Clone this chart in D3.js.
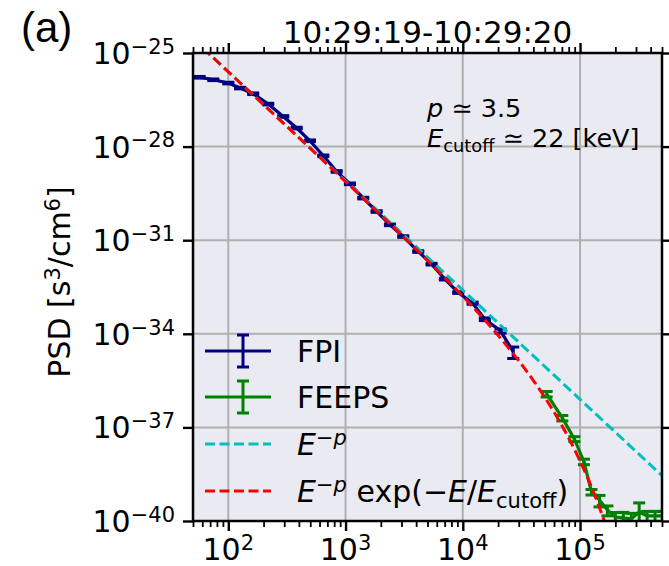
<!DOCTYPE html>
<html>
<head>
<meta charset="utf-8">
<script src="https://cdn.jsdelivr.net/npm/d3@7"></script>
<style>
  body { margin: 0; background: white; }
  text { font-family: "DejaVu Sans", sans-serif; fill: black; }
</style>
</head>
<body>
<div id="canvas"></div>
<script>
// DATA
// FPI electrons: energy [eV], PSD [s^3/cm^6], relative error
const fpiEnergy = [45, 57, 74.5, 100, 126, 163, 219, 294, 383, 497, 646, 840, 1090, 1416, 1841,
  2392, 3105, 4169, 5421, 7034, 9141, 12130, 15420, 20990, 26920];
const fpiPSD = [1.82e-26, 1.67e-26, 1.39e-26, 1.09e-26, 7.53e-27, 4.95e-27, 2.31e-27, 9.27e-28,
  3.94e-28, 1.54e-28, 5.08e-29, 1.60e-29, 6.43e-30, 2.24e-30, 8.32e-31, 3.11e-31, 1.31e-31,
  4.34e-32, 1.71e-32, 5.65e-33, 2.10e-33, 9.59e-34, 2.94e-34, 1.24e-34, 2.69e-35];
const fpiErr = [0.06, 0.06, 0.06, 0.06, 0.06, 0.06, 0.06, 0.06, 0.06, 0.06, 0.06, 0.06, 0.06,
  0.06, 0.06, 0.06, 0.06, 0.06, 0.06, 0.06, 0.06, 0.08, 0.1, 0.15, 0.4];

// FEEPS electrons
const feepsEnergy = [5.19e4, 7.06e4, 8.94e4, 1.079e5, 1.252e5, 1.465e5, 1.711e5, 2.002e5,
  2.34e5, 2.734e5, 3.194e5, 3.732e5, 4.36e5, 5.09e5];
const feepsPSD = [1.18e-36, 2.01e-37, 4.27e-38, 7.98e-39, 8.51e-40, 4.72e-40, 2.25e-40, 1.34e-40,
  1.26e-40, 1.17e-40, 1.95e-40, 1.45e-40, 1.45e-40, 1.45e-40];
const feepsErr = [0.2, 0.2, 0.18, 0.2, 0.2, 0.4, 0.35, 0.4, 0.5, 0.5, 0.95, 0.4, 0.4, 0.4];

// fitted curves
const powerEnergy = [40, 1e3, 1e4, 1e5, 6e5];
const powerPSD = [6.21e-25, 7.94e-30, 2.51e-33, 7.94e-37, 1.50e-39];
const cutoffEnergy = [40, 60, 100, 200, 500, 1e3, 2e3, 5e3, 1e4, 1.5e4, 2e4, 3e4, 4e4, 5e4,
  6e4, 7e4, 8e4, 9e4, 1e5, 1.2e5, 1.4e5, 1.6e5, 1.8e5];
const cutoffPSD = [6.19e-25, 1.50e-25, 2.50e-26, 2.20e-27, 8.77e-29, 7.59e-30, 6.41e-31,
  2.26e-32, 1.60e-33, 3.08e-34, 8.93e-35, 1.37e-35, 3.18e-36, 9.25e-37, 3.11e-37, 1.15e-37,
  4.57e-38, 1.92e-38, 8.43e-39, 1.79e-39, 4.22e-40, 1.07e-40, 2.84e-41];

// TICKS
const xTicks = [1e2, 1e3, 1e4, 1e5];
const yTicks = [1e-25, 1e-28, 1e-31, 1e-34, 1e-37, 1e-40];

const titleText = "10:29:19-10:29:20";

function drawChart() {
  // DIMENSIONS
  const width = 669;
  const height = 566;
  const margin = { top: 53, right: 7, bottom: 45, left: 193 };
  const plot_width = width - margin.left - margin.right;
  const plot_height = height - margin.top - margin.bottom;
  const fs = 30;

  const navy = "#000080", green = "#008000", cyan = "#00bfbf", red = "#ff0000";

  // CANVAS AND PLOT
  const canvas = d3.select("#canvas")
    .append("svg")
    .attr("width", width)
    .attr("height", height);

  const plot = canvas.append("g")
    .attr("transform", `translate(${margin.left},${margin.top})`);

  const x = d3.scaleLog().domain([50, 5e5]).range([0, plot_width]);
  const y = d3.scaleLog().domain([1e-40, 1e-25]).range([plot_height, 0]);

  // mathtext-ish helper: parts = [{t, it, sup, sub}]
  function mathText(sel, parts, size) {
    let shift = 0;
    parts.forEach(p => {
      const target = p.sup ? -0.34 * size : p.sub ? 0.2 * size : 0;
      const ts = sel.append("tspan").text(p.t).attr("dy", target - shift);
      shift = target;
      if (p.sup || p.sub) ts.style("font-size", (0.7 * size) + "px");
      if (p.it) ts.style("font-style", "italic");
    });
    return sel;
  }

  // BACKGROUND + GRID
  plot.append("rect")
    .attr("width", plot_width)
    .attr("height", plot_height)
    .attr("fill", "#eaeaf2");

  plot.selectAll(".xgrid")
    .data(xTicks)
    .join("line")
    .attr("x1", d => x(d)).attr("x2", d => x(d))
    .attr("y1", 0).attr("y2", plot_height)
    .attr("stroke", "#b0b0b0").attr("stroke-width", 2);

  plot.selectAll(".ygrid")
    .data(yTicks)
    .join("line")
    .attr("y1", d => y(d)).attr("y2", d => y(d))
    .attr("x1", 0).attr("x2", plot_width)
    .attr("stroke", "#b0b0b0").attr("stroke-width", 2);

  // CLIP
  canvas.append("clipPath").attr("id", "clip")
    .append("rect").attr("width", plot_width).attr("height", plot_height);
  const data_g = plot.append("g").attr("clip-path", "url(#clip)");

  const line = d3.line().x(d => x(d[0])).y(d => y(d[1]));

  // ERRORBAR SERIES
  function errorSeries(energy, psd, err, color) {
    const pts = energy.map((e, i) => [e, psd[i], err[i]]);
    data_g.append("path")
      .attr("d", line(pts))
      .attr("fill", "none")
      .attr("stroke", color)
      .attr("stroke-width", 3.2);
    const bars = data_g.append("g").attr("stroke", color).attr("stroke-width", 3);
    pts.forEach(d => {
      const cx = x(d[0]);
      const yt = y(d[1] * (1 + d[2]));
      const yb = y(Math.max(d[1] * (1 - d[2]), 1e-45));
      bars.append("line").attr("x1", cx).attr("x2", cx).attr("y1", yt).attr("y2", yb);
      bars.append("line").attr("x1", cx - 6).attr("x2", cx + 6).attr("y1", yt).attr("y2", yt);
      bars.append("line").attr("x1", cx - 6).attr("x2", cx + 6).attr("y1", yb).attr("y2", yb);
    });
  }

  errorSeries(fpiEnergy, fpiPSD, fpiErr, navy);
  errorSeries(feepsEnergy, feepsPSD, feepsErr, green);

  data_g.append("path")
    .attr("d", line(powerEnergy.map((e, i) => [e, powerPSD[i]])))
    .attr("fill", "none")
    .attr("stroke", cyan)
    .attr("stroke-width", 3)
    .attr("stroke-dasharray", "10,4.5");

  data_g.append("path")
    .attr("d", d3.line().x(d => x(d[0])).y(d => y(d[1])).curve(d3.curveMonotoneX)(cutoffEnergy.map((e, i) => [e, cutoffPSD[i]])))
    .attr("fill", "none")
    .attr("stroke", red)
    .attr("stroke-width", 3)
    .attr("stroke-dasharray", "10,4.5");

  // AXES (ticks only, labels drawn as rich text)
  const minorX = x.ticks().filter(d => !xTicks.includes(d));

  function styleAxis(g) {
    g.select(".domain").remove();
    g.selectAll("line").attr("stroke", "black");
    g.selectAll("text").remove();
  }

  plot.append("g").attr("transform", `translate(0,${plot_height})`)
    .call(d3.axisBottom(x).tickValues(xTicks).tickSize(10).tickSizeOuter(0))
    .call(styleAxis).selectAll("line").attr("stroke-width", 2.4);
  plot.append("g").attr("transform", `translate(0,${plot_height})`)
    .call(d3.axisBottom(x).tickValues(minorX).tickSize(6).tickSizeOuter(0))
    .call(styleAxis).selectAll("line").attr("stroke-width", 1.8);
  plot.append("g")
    .call(d3.axisTop(x).tickValues(xTicks).tickSize(10).tickSizeOuter(0))
    .call(styleAxis).selectAll("line").attr("stroke-width", 2.4);
  plot.append("g")
    .call(d3.axisTop(x).tickValues(minorX).tickSize(6).tickSizeOuter(0))
    .call(styleAxis).selectAll("line").attr("stroke-width", 1.8);
  plot.append("g")
    .call(d3.axisLeft(y).tickValues(yTicks).tickSize(10).tickSizeOuter(0))
    .call(styleAxis).selectAll("line").attr("stroke-width", 2.4);
  plot.append("g").attr("transform", `translate(${plot_width},0)`)
    .call(d3.axisRight(y).tickValues(yTicks).tickSize(10).tickSizeOuter(0))
    .call(styleAxis).selectAll("line").attr("stroke-width", 2.4);

  // SPINES
  plot.append("rect")
    .attr("width", plot_width)
    .attr("height", plot_height)
    .attr("fill", "none")
    .attr("stroke", "black")
    .attr("stroke-width", 2.5);

  // TICK LABELS
  xTicks.forEach(d => {
    const t = plot.append("text")
      .attr("x", x(d))
      .attr("y", plot_height + 39)
      .attr("text-anchor", "middle")
      .style("font-size", fs + "px");
    mathText(t, [{ t: "10" }, { t: String(Math.round(Math.log10(d))), sup: true }], fs);
  });

  yTicks.forEach(d => {
    const t = plot.append("text")
      .attr("x", -18)
      .attr("y", y(d) + 11)
      .attr("text-anchor", "end")
      .style("font-size", fs + "px");
    mathText(t, [{ t: "10" }, { t: "\u2212" + Math.round(-Math.log10(d)), sup: true }], fs);
  });

  // AXIS LABEL
  const ylab = canvas.append("text")
    .attr("transform", `translate(70,282) rotate(-90)`)
    .attr("text-anchor", "middle")
    .style("font-size", fs + "px");
  mathText(ylab, [{ t: "PSD [s" }, { t: "3", sup: true }, { t: "/cm" }, { t: "6", sup: true }, { t: "]" }], fs);

  // TITLE
  canvas.append("text")
    .attr("x", margin.left + plot_width / 2)
    .attr("y", 43)
    .attr("text-anchor", "middle")
    .style("font-size", "31px")
    .text(titleText);

  canvas.append("text")
    .attr("x", 21)
    .attr("y", 42)
    .style("font-family", "'Liberation Sans', Arial, sans-serif")
    .style("font-size", "42px")
    .attr("fill", "#1a1a1a")
    .text("(a)");

  // ANNOTATION
  const afs = 25.5;
  mathText(canvas.append("text").attr("x", 427).attr("y", 117).style("font-size", afs + "px"),
    [{ t: "p", it: true }, { t: " \u2243 3.5" }], afs);
  mathText(canvas.append("text").attr("x", 427).attr("y", 147).style("font-size", afs + "px"),
    [{ t: "E", it: true }, { t: "cutoff", sub: true }, { t: " \u2243 22 [keV]" }], afs);

  // LEGEND
  const legend = canvas.append("g");
  const lx0 = 205, lx1 = 271, tx = 297;
  const rows = [
    { y: 351, color: navy, type: "err", parts: [{ t: "FPI" }] },
    { y: 397, color: green, type: "err", parts: [{ t: "FEEPS" }] },
    { y: 444, color: cyan, type: "dash", parts: [{ t: "E", it: true }, { t: "\u2212", sup: true }, { t: "p", sup: true, it: true }] },
    { y: 491, color: red, type: "dash", parts: [{ t: "E", it: true }, { t: "\u2212", sup: true }, { t: "p", sup: true, it: true },
      { t: " exp(\u2212" }, { t: "E", it: true }, { t: "/" }, { t: "E", it: true }, { t: "cutoff", sub: true }, { t: ")" }] }
  ];
  rows.forEach(r => {
    const h = legend.append("line")
      .attr("x1", lx0).attr("x2", lx1).attr("y1", r.y).attr("y2", r.y)
      .attr("stroke", r.color).attr("stroke-width", 3.2);
    if (r.type === "dash") h.attr("stroke-dasharray", "10,4.5");
    else {
      const cx = (lx0 + lx1) / 2 + 5;
      legend.append("line").attr("x1", cx).attr("x2", cx).attr("y1", r.y - 16).attr("y2", r.y + 16)
        .attr("stroke", r.color).attr("stroke-width", 3);
      [-16, 16].forEach(o => legend.append("line")
        .attr("x1", cx - 6).attr("x2", cx + 6).attr("y1", r.y + o).attr("y2", r.y + o)
        .attr("stroke", r.color).attr("stroke-width", 3));
    }
    const t = legend.append("text")
      .attr("x", tx)
      .attr("y", r.y + 11)
      .style("font-size", fs + "px");
    mathText(t, r.parts, fs);
  });
}

drawChart();
</script>
</body>
</html>
